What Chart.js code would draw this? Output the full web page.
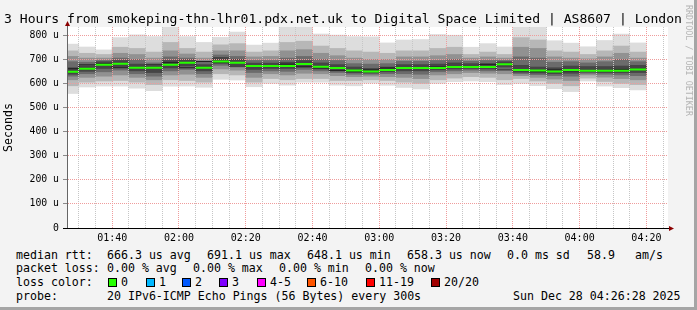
<!DOCTYPE html>
<html>
<head>
<meta charset="utf-8">
<script src="https://cdn.jsdelivr.net/npm/chart.js@4.4.1/dist/chart.umd.min.js"></script>
<style>
  html, body { margin: 0; padding: 0; }
  body {
    width: 697px; height: 310px; overflow: hidden; position: relative;
    background: #f3f3f3; font-family: "DejaVu Sans Mono", monospace; color: #000;
  }
  #frame {
    position: absolute; left: 0; top: 0; width: 694px; height: 307px;
    border-right: 3px solid #a5a5a5; border-bottom: 3px solid #a5a5a5;
  }
  #chart { position: absolute; left: 0; top: 0; }
  .title { position: absolute; left: 4px; top: 11px; font-size: 13.1px; line-height: 16px; white-space: pre; }
  .t { position: absolute; font-size: 11.6px; line-height: 14px; white-space: pre; }
  .box { position: absolute; width: 7px; height: 7px; border: 1px solid #000; top: 278px; }
  .mark {
    position: absolute; left: 684px; top: 5px; font-size: 8.4px; color: #b4b4b4;
    writing-mode: vertical-rl; white-space: pre;
  }
</style>
</head>
<body>
<div id="frame"></div>
<canvas id="chart" width="697" height="246"></canvas>

<div class="title">3 Hours from smokeping-thn-lhr01.pdx.net.uk to Digital Space Limited | AS8607 | London</div>
<div class="mark">RRDTOOL / TOBI OETIKER</div>

<div class="t" style="left:16px;top:248px">median rtt:</div>
<div class="t" style="left:107px;top:248px">666.3 us avg</div>
<div class="t" style="left:207px;top:248px">691.1 us max</div>
<div class="t" style="left:307px;top:248px">648.1 us min</div>
<div class="t" style="left:407px;top:248px">658.3 us now</div>
<div class="t" style="left:507px;top:248px">0.0 ms sd</div>
<div class="t" style="left:587px;top:248px">58.9</div>
<div class="t" style="left:635px;top:248px">am/s</div>

<div class="t" style="left:16px;top:261px">packet loss:</div>
<div class="t" style="left:107px;top:261px">0.00 % avg</div>
<div class="t" style="left:193px;top:261px">0.00 % max</div>
<div class="t" style="left:279px;top:261px">0.00 % min</div>
<div class="t" style="left:365px;top:261px">0.00 % now</div>

<div class="t" style="left:16px;top:275px">loss color:</div>
<div id="losscolors"></div>

<div class="t" style="left:16px;top:289px">probe:</div>
<div class="t" style="left:107px;top:289px">20 IPv6-ICMP Echo Pings (56 Bytes) every 300s</div>
<div class="t" style="left:513px;top:289px">Sun Dec 28 04:26:28 2025</div>

<script>
// 5 minute steps, labelled by the end of each step
const stepEnds = ['01:30', '01:35', '01:40', '01:45', '01:50', '01:55', '02:00', '02:05', '02:10', '02:15',
  '02:20', '02:25', '02:30', '02:35', '02:40', '02:45', '02:50', '02:55', '03:00', '03:05',
  '03:10', '03:15', '03:20', '03:25', '03:30', '03:35', '03:40', '03:45', '03:50', '03:55',
  '04:00', '04:05', '04:10', '04:15', '04:20'];

// median rtt, microseconds
const median = [648, 661, 677, 681, 665, 665, 677, 686, 665, 691, 686, 672, 672, 672, 680, 669, 664, 653, 649, 656,
  664, 664, 664, 668, 668, 668, 679, 656, 653, 649, 656, 652, 652, 652, 658];

// smoke, outer band (1) to core band (5)
const smoke1Lo = [558, 585, 589, 589, 580, 570, 589, 589, 584, 617, 614, 586, 600, 593, 605, 605, 593, 590, 601, 592,
  583, 577, 600, 607, 610, 607, 595, 600, 591, 578, 566, 610, 589, 582, 573];
const smoke1Hi = [763, 751, 739, 790, 801, 794, 845, 794, 770, 791, 813, 759, 767, 845, 845, 805, 800, 794, 793, 768,
  780, 782, 803, 800, 750, 765, 751, 845, 845, 777, 767, 752, 778, 805, 768];
const smoke2Lo = [590, 605, 610, 612, 605, 595, 615, 612, 605, 640, 635, 605, 620, 615, 620, 620, 612, 612, 615, 612,
  605, 600, 615, 622, 628, 625, 615, 620, 610, 600, 590, 622, 608, 600, 595];
const smoke2Hi = [735, 725, 720, 750, 745, 730, 770, 745, 730, 760, 765, 730, 735, 770, 775, 755, 745, 735, 730, 725,
  735, 735, 745, 750, 720, 730, 720, 790, 780, 735, 730, 720, 735, 755, 730];
const smoke3Lo = [615, 625, 630, 635, 625, 615, 635, 638, 625, 660, 655, 625, 640, 635, 642, 640, 632, 628, 630, 628,
  625, 620, 635, 640, 645, 642, 640, 632, 625, 618, 612, 635, 626, 620, 615];
const smoke3Hi = [712, 705, 705, 725, 720, 705, 735, 722, 705, 735, 735, 710, 712, 735, 740, 725, 715, 705, 700, 700,
  710, 710, 715, 720, 705, 710, 705, 750, 745, 710, 705, 702, 710, 725, 705];
const smoke4Lo = [630, 640, 648, 655, 640, 630, 652, 658, 640, 675, 668, 645, 652, 650, 658, 652, 645, 638, 638, 640,
  640, 638, 648, 652, 655, 652, 660, 640, 636, 632, 630, 642, 638, 635, 632];
const smoke4Hi = [690, 688, 695, 705, 700, 685, 710, 705, 688, 718, 712, 695, 695, 705, 712, 700, 695, 682, 680, 682,
  692, 692, 695, 700, 692, 695, 695, 710, 705, 688, 690, 685, 690, 700, 690];
const smoke5Lo = [638, 650, 662, 668, 652, 645, 664, 672, 652, 684, 677, 658, 662, 662, 668, 660, 655, 645, 643, 648,
  652, 652, 656, 660, 662, 660, 668, 646, 643, 640, 642, 647, 645, 644, 645];
const smoke5Hi = [665, 672, 690, 695, 680, 672, 695, 698, 678, 708, 700, 684, 684, 688, 695, 685, 678, 668, 662, 668,
  678, 678, 680, 685, 682, 682, 690, 675, 668, 665, 672, 670, 670, 672, 675];

const timeLabels = ['01:40', '02:00', '02:20', '02:40', '03:00', '03:20', '03:40', '04:00', '04:20'];
const yTickLabels = ['0', '100 u', '200 u', '300 u', '400 u', '500 u', '600 u', '700 u', '800 u'];
const lossLabels = ['0', '1', '2', '3', '4-5', '6-10', '11-19', '20/20'];
const lossColors = ['#26ff00', '#00b8ff', '#0059ff', '#7e00ff', '#ff00ff', '#ff5500', '#ff0000', '#a10000'];

const windowStart = '01:26:28';
const windowEnd = '04:26:28';
const yMax = 834;

const FONT = 'DejaVu Sans Mono';
const MAJOR = '#ef9c9c';
const MINOR = '#c6c6c6';

const toMin = function (s) {
  const p = s.split(':').map(Number);
  return p[0] * 60 + p[1] + (p[2] || 0) / 60;
};
const fmt = function (m) {
  const h = Math.floor(m / 60), mm = m % 60;
  return String(h).padStart(2, '0') + ':' + String(mm).padStart(2, '0');
};

const ends = stepEnds.map(toMin);
const labelMins = timeLabels.map(toMin);

const smokeLayer = function (lo, hi, color, order) {
  return {
    type: 'bar',
    data: ends.map((e, i) => ({ x: e - 2.5, y: [lo[i], hi[i]] })),
    backgroundColor: color,
    borderWidth: 0,
    barPercentage: 1,
    categoryPercentage: 1,
    grouped: false,
    order: order,
    clip: 0,
  };
};

const medianSegs = [];
ends.forEach((e, i) => {
  medianSegs.push({ x: e - 5, y: median[i] }, { x: e, y: median[i] }, { x: e, y: null });
});
const medianSteps = ends.map((e, i) => ({ x: e - 5, y: median[i] }));
medianSteps.push({ x: ends[ends.length - 1], y: median[median.length - 1] });

// loss colour legend
const lossBoxX = [108, 146, 182, 219, 257, 307, 366, 431];
const lc = document.getElementById('losscolors');
lossLabels.forEach((l, i) => {
  const b = document.createElement('div');
  b.className = 'box';
  b.style.left = lossBoxX[i] + 'px';
  b.style.background = lossColors[i];
  lc.appendChild(b);
  const t = document.createElement('div');
  t.className = 't';
  t.style.left = lossBoxX[i] + 13 + 'px';
  t.style.top = '275px';
  t.textContent = l;
  lc.appendChild(t);
});

const plotBg = {
  id: 'plotBg',
  beforeDraw(chart) {
    const { ctx, chartArea: a } = chart;
    ctx.save();
    ctx.fillStyle = '#ffffff';
    ctx.fillRect(a.left, a.top, a.right - a.left, a.bottom - a.top);
    ctx.restore();
  },
};

const arrows = {
  id: 'arrows',
  afterDraw(chart) {
    const { ctx, chartArea: a } = chart;
    ctx.save();
    ctx.lineWidth = 1;
    ctx.strokeStyle = '#000';
    ctx.beginPath();
    ctx.moveTo(a.left - 4, a.bottom + 0.5);
    ctx.lineTo(a.right + 2, a.bottom + 0.5);
    ctx.stroke();
    ctx.strokeStyle = '#666';
    ctx.beginPath();
    ctx.moveTo(a.left + 0.5, a.top);
    ctx.lineTo(a.left + 0.5, a.top - 2);
    ctx.stroke();
    ctx.fillStyle = '#8b0000';
    ctx.beginPath();
    ctx.moveTo(a.left + 0.5, a.top - 6);
    ctx.lineTo(a.left + 3, a.top - 1);
    ctx.lineTo(a.left - 2, a.top - 1);
    ctx.closePath();
    ctx.fill();
    ctx.beginPath();
    ctx.moveTo(a.right + 6, a.bottom + 0.5);
    ctx.lineTo(a.right + 1, a.bottom - 2);
    ctx.lineTo(a.right + 1, a.bottom + 3);
    ctx.closePath();
    ctx.fill();
    ctx.restore();
  },
};

const init = function () {
  const ctx = document.getElementById('chart').getContext('2d');
  new Chart(ctx, {
    type: 'bar',
    data: {
      datasets: [
        {
          type: 'line', data: medianSegs, borderColor: '#26ff00', borderWidth: 2,
          pointRadius: 0, spanGaps: false, order: 0, clip: 0,
        },
        {
          type: 'line', data: medianSteps, borderColor: '#202020', borderWidth: 1,
          pointRadius: 0, stepped: 'after', order: 1, clip: 0,
        },
        smokeLayer(smoke5Lo, smoke5Hi, '#454545', 2),
        smokeLayer(smoke4Lo, smoke4Hi, '#6b6b6b', 3),
        smokeLayer(smoke3Lo, smoke3Hi, '#919191', 4),
        smokeLayer(smoke2Lo, smoke2Hi, '#b7b7b7', 5),
        smokeLayer(smoke1Lo, smoke1Hi, '#dddddd', 6),
      ],
    },
    options: {
      responsive: false,
      animation: false,
      events: [],
      layout: { padding: { left: 0, top: 27, right: 29, bottom: 0 } },
      plugins: { legend: { display: false }, tooltip: { enabled: false } },
      scales: {
        x: {
          type: 'linear',
          min: toMin(windowStart),
          max: toMin(windowEnd),
          offset: false,
          afterBuildTicks: function (s) {
            const t = [];
            for (let v = ends[0]; v <= s.max; v += 5) t.push({ value: v });
            s.ticks = t;
          },
          afterFit: function (s) { s.height = 18; },
          grid: {
            offset: false, drawTicks: false, z: 1, lineWidth: 1,
            color: c => (c.tick && labelMins.indexOf(c.tick.value) >= 0 ? MAJOR : MINOR),
          },
          border: { display: true, color: '#000', width: 1, z: 2, dash: [1, 1] },
          ticks: {
            autoSkip: false, maxRotation: 0, padding: 4, color: '#000',
            font: { family: FONT, size: 10 },
            callback: v => (labelMins.indexOf(v) >= 0 ? fmt(v) : ''),
          },
        },
        y: {
          min: 0,
          max: yMax,
          afterBuildTicks: function (s) {
            const t = [];
            for (let v = 0; v <= 800; v += 50) t.push({ value: v });
            s.ticks = t;
          },
          afterFit: function (s) { s.width = 67; },
          grid: {
            z: 1, lineWidth: 1, drawTicks: true, tickLength: 4, tickColor: '#8a8a8a',
            color: c => (c.tick.value === 0 ? 'rgba(0,0,0,0)' : c.tick.value % 100 === 0 ? MAJOR : MINOR),
          },
          border: { display: true, color: '#666', width: 1, z: 2, dash: [1, 1] },
          ticks: {
            padding: 4, color: '#000', font: { family: FONT, size: 9.8 },
            callback: v => (v % 100 === 0 ? yTickLabels[v / 100] : ''),
          },
          title: {
            display: true, text: 'Seconds', color: '#000',
            font: { family: FONT, size: 11.6 }, padding: { top: 2, bottom: 0 },
          },
        },
      },
    },
    plugins: [plotBg, arrows],
  });
};

document.addEventListener('DOMContentLoaded', init);
</script>
</body>
</html>
